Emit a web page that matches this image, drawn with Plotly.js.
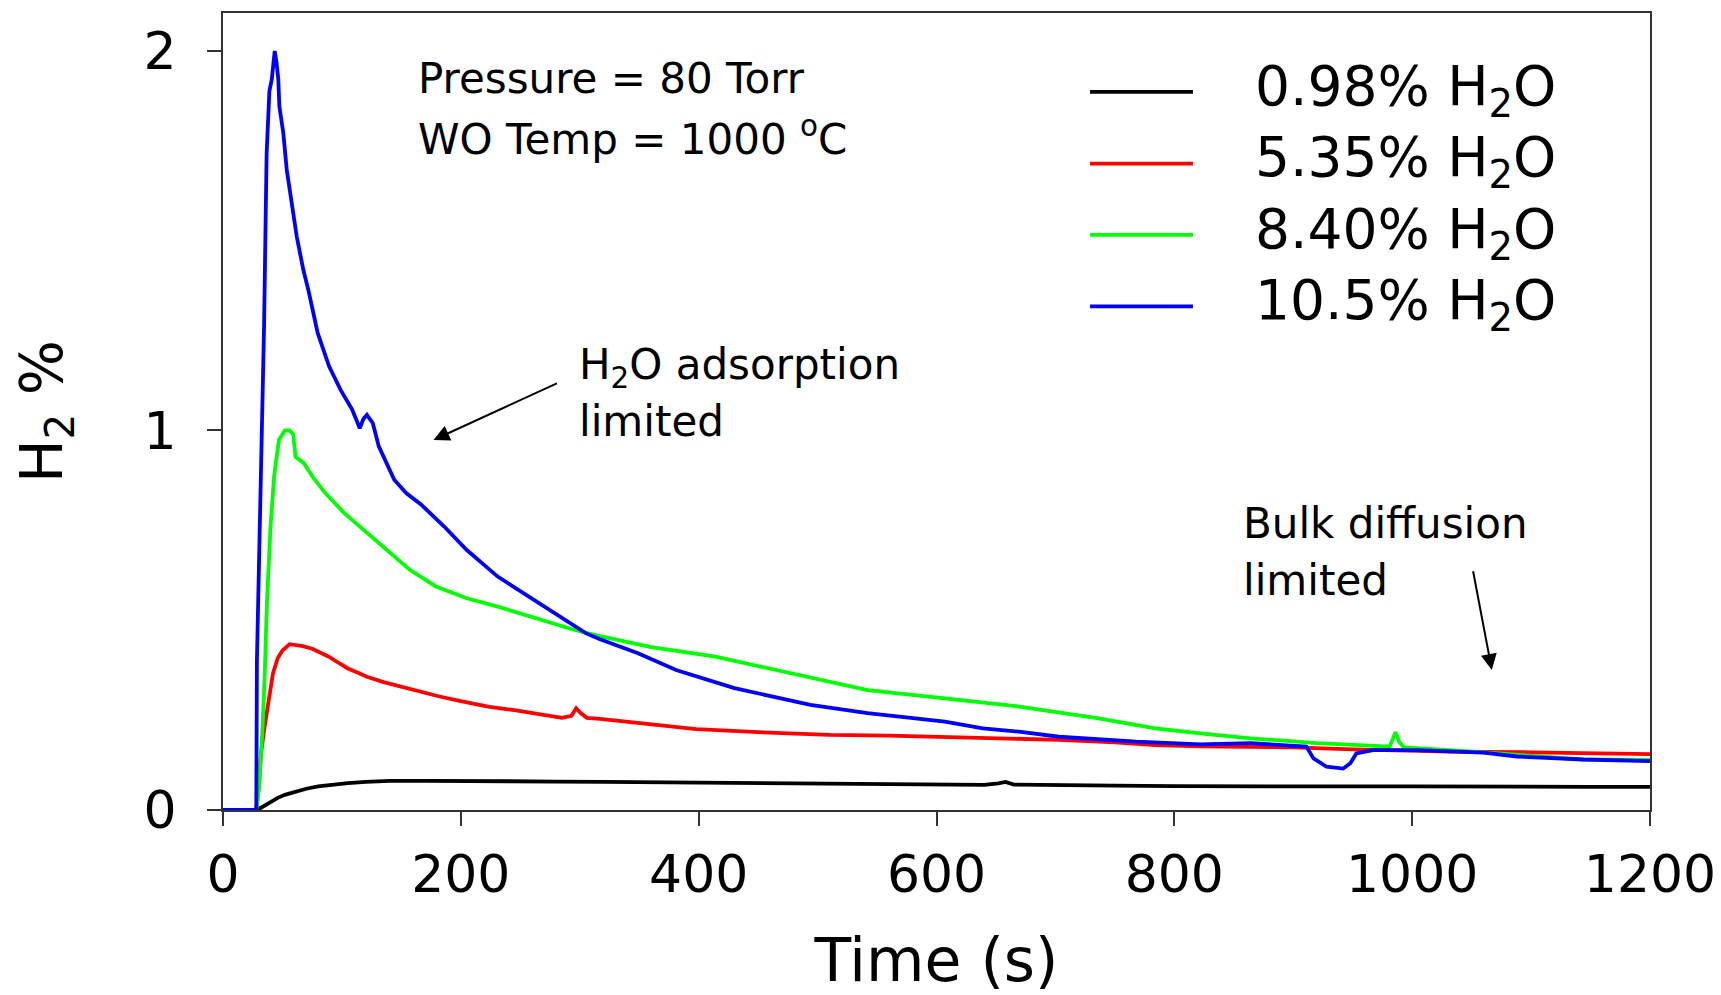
<!DOCTYPE html>
<html>
<head>
<meta charset="utf-8">
<script src="https://cdn.plot.ly/plotly-3.0.1.min.js"></script>
<style>
  html, body { margin: 0; padding: 0; background: #fff; }
  #chart { width: 1721px; height: 995px; }
</style>
</head>
<body>
<div id="chart"></div>
<script>
// ---------- data ----------
const seriesNames = ['0.98% H<sub>2</sub>O', '5.35% H<sub>2</sub>O', '8.40% H<sub>2</sub>O', '10.5% H<sub>2</sub>O'];
const seriesColors = ['#000000', '#ff0000', '#00ff00', '#0000ff'];

const timeBlack = [0, 28, 31, 35, 40, 46, 52, 60, 70, 80, 92, 105, 120, 140, 170, 200, 240, 280, 320, 360, 400, 450, 500, 550, 600, 640, 652, 658, 665, 700, 750, 800, 850, 900, 950, 1000, 1050, 1100, 1150, 1200];
const h2Black   = [0, 0, 0.004, 0.012, 0.022, 0.032, 0.040, 0.048, 0.056, 0.062, 0.067, 0.071, 0.074, 0.077, 0.077, 0.077, 0.076, 0.075, 0.074, 0.073, 0.072, 0.071, 0.070, 0.069, 0.068, 0.066, 0.070, 0.074, 0.067, 0.065, 0.064, 0.063, 0.062, 0.062, 0.062, 0.062, 0.061, 0.061, 0.061, 0.061];

const timeRed = [0, 28, 30, 32, 35, 38, 42, 46, 50, 56, 62, 67, 75, 80, 89, 97, 105, 113, 121, 135, 150, 165, 182, 200, 224, 245, 263, 285, 293, 297, 301, 306, 317, 350, 398, 450, 510, 560, 607, 650, 703, 750, 784, 822, 864, 900, 950, 1000, 1032, 1100, 1150, 1200];
const h2Red   = [0, 0, 0.06, 0.15, 0.22, 0.28, 0.36, 0.40, 0.42, 0.437, 0.435, 0.432, 0.425, 0.417, 0.404, 0.388, 0.373, 0.362, 0.351, 0.337, 0.325, 0.312, 0.299, 0.287, 0.272, 0.263, 0.255, 0.243, 0.248, 0.268, 0.255, 0.243, 0.240, 0.228, 0.213, 0.205, 0.198, 0.196, 0.193, 0.190, 0.185, 0.178, 0.171, 0.168, 0.167, 0.165, 0.160, 0.156, 0.154, 0.152, 0.150, 0.147];

const timeGreen = [0, 28, 30, 33, 35, 37, 40, 43, 47, 52, 56, 59, 61, 68, 76, 86, 102, 118, 134, 157, 179, 205, 231, 263, 295, 317, 359, 414, 478, 542, 607, 671, 735, 784, 822, 864, 920, 960, 981, 984, 986, 989, 993, 1032, 1088, 1144, 1200];
const h2Green   = [0, 0, 0.05, 0.20, 0.35, 0.55, 0.75, 0.88, 0.975, 1.0, 1.0, 0.99, 0.93, 0.914, 0.875, 0.835, 0.782, 0.738, 0.694, 0.633, 0.589, 0.558, 0.536, 0.505, 0.475, 0.458, 0.430, 0.404, 0.360, 0.316, 0.294, 0.272, 0.242, 0.215, 0.202, 0.189, 0.176, 0.171, 0.167, 0.19, 0.205, 0.18, 0.165, 0.158, 0.145, 0.133, 0.132];

const timeBlue = [0, 28, 28.5, 31, 34.5, 36.7, 39, 41, 43.5, 45, 46.5, 47.4, 50.7, 53.6, 57.8, 62, 67.5, 71.7, 79.6, 89.2, 98.9, 108.6, 115, 118, 121, 126, 131, 144, 154, 166.5, 186, 205, 231, 257, 282, 305, 317, 349, 381, 430, 494, 542, 607, 639, 671, 703, 768, 822, 864, 911, 917, 928, 942, 948, 953, 967, 1004, 1060, 1088, 1144, 1200];
const h2Blue   = [0, 0, 0.39, 0.77, 1.27, 1.73, 1.894, 1.925, 2.0, 1.97, 1.925, 1.854, 1.784, 1.687, 1.60, 1.511, 1.424, 1.371, 1.257, 1.169, 1.107, 1.055, 1.006, 1.03, 1.041, 1.019, 0.958, 0.87, 0.835, 0.805, 0.747, 0.685, 0.615, 0.562, 0.510, 0.466, 0.450, 0.413, 0.369, 0.321, 0.277, 0.255, 0.233, 0.215, 0.206, 0.193, 0.180, 0.173, 0.176, 0.167, 0.136, 0.114, 0.109, 0.123, 0.149, 0.158, 0.158, 0.151, 0.141, 0.133, 0.129];

const xTicks = [0, 200, 400, 600, 800, 1000, 1200];
const yTicks = [0, 1, 2];
const xTitle = 'Time (s)';
const yTitle = 'H<sub>2</sub> %';
const noteLines = ['Pressure = 80 Torr', 'WO Temp = 1000 <sup>o</sup>C'];
const adsorptionLines = ['H<sub>2</sub>O adsorption', 'limited'];
const bulkLines = ['Bulk diffusion', 'limited'];

// ---------- chart ----------
const FONT = 'DejaVu Sans, Liberation Sans, Arial, sans-serif';
const xs = [timeBlack, timeRed, timeGreen, timeBlue];
const ys = [h2Black, h2Red, h2Green, h2Blue];

const traces = xs.map((x, i) => ({
  type: 'scatter', mode: 'lines', x: x, y: ys[i], name: seriesNames[i],
  line: { color: seriesColors[i], width: 3.8 }, showlegend: false
}));

// legend drawn as paper-positioned samples + labels
const legendRowsY = [0.901, 0.811, 0.7215, 0.632];
const shapes = legendRowsY.map((yy, i) => ({
  type: 'line', xref: 'paper', yref: 'paper', x0: 0.6076, x1: 0.6797, y0: yy, y1: yy,
  line: { color: seriesColors[i], width: 3.8 }
}));
const annotations = legendRowsY.map((yy, i) => ({
  xref: 'paper', yref: 'paper', x: 0.7215, y: yy + 0.003, xanchor: 'left', yanchor: 'middle',
  text: seriesNames[i], showarrow: false, font: { family: FONT, size: 55, color: '#000' }
}));

const textFont = { family: FONT, size: 42, color: '#000' };
annotations.push(
  { xref: 'x', yref: 'y', x: 162, y: 1.927, xanchor: 'left', yanchor: 'middle', text: noteLines[0], showarrow: false, font: textFont },
  { xref: 'x', yref: 'y', x: 162, y: 1.774, xanchor: 'left', yanchor: 'middle', text: noteLines[1], showarrow: false, font: textFont },
  { xref: 'x', yref: 'y', x: 298, y: 1.165, xanchor: 'left', yanchor: 'middle', text: adsorptionLines[0], showarrow: false, font: textFont },
  { xref: 'x', yref: 'y', x: 298, y: 1.023, xanchor: 'left', yanchor: 'middle', text: adsorptionLines[1], showarrow: false, font: textFont },
  { xref: 'x', yref: 'y', x: 856, y: 0.754, xanchor: 'left', yanchor: 'middle', text: bulkLines[0], showarrow: false, font: textFont },
  { xref: 'x', yref: 'y', x: 856, y: 0.605, xanchor: 'left', yanchor: 'middle', text: bulkLines[1], showarrow: false, font: textFont },
  { xref: 'x', yref: 'y', x: 177, y: 0.975, axref: 'x', ayref: 'y', ax: 282, ay: 1.126, text: '', showarrow: true,
    arrowhead: 2, arrowsize: 1.6, arrowwidth: 2, arrowcolor: '#000', standoff: 0, startstandoff: 0 },
  { xref: 'x', yref: 'y', x: 1067, y: 0.369, axref: 'x', ayref: 'y', ax: 1051, ay: 0.633, text: '', showarrow: true,
    arrowhead: 2, arrowsize: 1.6, arrowwidth: 2, arrowcolor: '#000', standoff: 0, startstandoff: 0 }
);

const layout = {
  width: 1721, height: 995,
  margin: { l: 223, r: 71, t: 13, b: 185, pad: 0 },
  paper_bgcolor: '#ffffff', plot_bgcolor: '#ffffff',
  font: { family: FONT, color: '#000' },
  showlegend: false,
  xaxis: {
    range: [0, 1200], tickvals: xTicks, ticktext: xTicks.map(String),
    showgrid: false, zeroline: false, showline: true, mirror: true,
    linecolor: '#333', linewidth: 2, ticks: 'outside', ticklen: 14, tickwidth: 2, tickcolor: '#333',
    tickfont: { family: FONT, size: 52, color: '#000' }, ticklabelstandoff: 4,
    title: { text: xTitle, font: { family: FONT, size: 60, color: '#000' }, standoff: 40 }
  },
  yaxis: {
    range: [0, 2.1], tickvals: yTicks, ticktext: yTicks.map(String),
    showgrid: false, zeroline: false, showline: true, mirror: true,
    linecolor: '#333', linewidth: 2, ticks: 'outside', ticklen: 14, tickwidth: 2, tickcolor: '#333',
    tickfont: { family: FONT, size: 52, color: '#000' }, ticklabelstandoff: 20,
    title: { text: yTitle, font: { family: FONT, size: 58, color: '#000' }, standoff: 62 }
  },
  shapes: shapes,
  annotations: annotations
};

Plotly.newPlot('chart', traces, layout, { staticPlot: true, displayModeBar: false });
</script>
</body>
</html>
